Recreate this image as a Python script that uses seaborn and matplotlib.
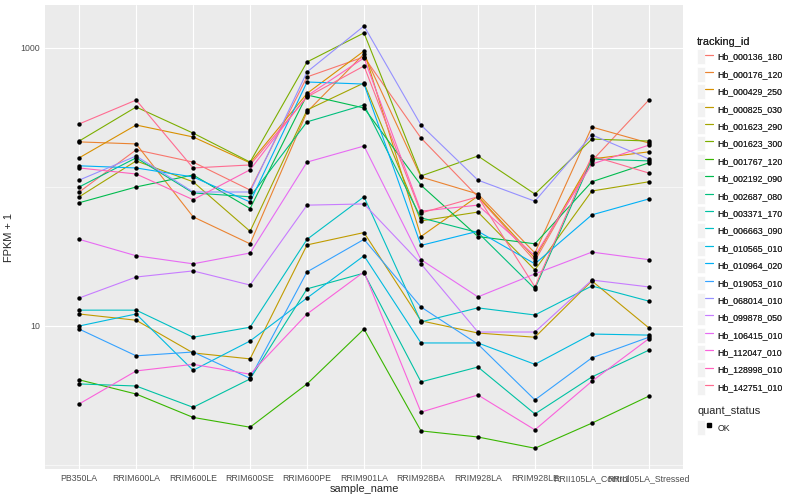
import numpy as np
import pandas as pd
import seaborn as sns
import matplotlib
matplotlib.use("Agg")
import matplotlib.pyplot as plt
from matplotlib.lines import Line2D
from matplotlib.patches import Patch
from matplotlib.legend_handler import HandlerTuple
from matplotlib.ticker import FixedLocator

samples = ["PB350LA", "RRIM600LA", "RRIM600LE", "RRIM600SE", "RRIM600PE", "RRIM901LA",
           "RRIM928BA", "RRIM928LA", "RRIM928LE", "RRII105LA_Control", "RRII105LA_Stressed"]

# FPKM + 1 per transcript, one value per sample
hb_000136_180 = [92, 185, 151, 95, 619, 862, 225, 85, 29.4, 154, 422]
hb_000176_120 = [211, 204, 61, 39, 347, 906, 118, 89, 33.5, 270, 207]
hb_000429_250 = [162, 279, 229, 149, 471, 951, 44, 86, 30.8, 159, 179]
hb_000825_030 = [12.2, 11.0, 6.4, 5.8, 38.3, 47, 10.9, 8.9, 8.3, 21.1, 9.7]
hb_001623_290 = [85, 154, 109, 48, 358, 560, 57, 66, 25.3, 93.5, 109]
hb_001623_300 = [214, 376, 244, 151, 793, 1282, 120, 167, 89, 221, 214]
hb_001767_120 = [4.1, 3.24, 2.2, 1.87, 3.83, 9.5, 1.76, 1.59, 1.32, 2.0, 3.13]
hb_002192_090 = [77, 100, 122, 70, 459, 370, 103, 44, 39, 109, 149]
hb_002687_080 = [100, 162, 90.6, 85, 294, 389, 60, 47, 18.5, 159, 154]
hb_003371_170 = [3.83, 3.7, 2.6, 4.16, 18.5, 24.0, 3.96, 5.07, 2.33, 4.3, 6.7]
hb_006663_090 = [13.0, 13.0, 8.3, 9.8, 42, 85, 10.7, 13.5, 12.0, 19.4, 15.1]
hb_010565_010 = [10.0, 12.2, 4.8, 7.8, 15.9, 32, 7.55, 7.55, 5.3, 8.75, 8.6]
hb_010964_020 = [142, 137, 118, 78, 569, 550, 38, 48, 28, 63, 82]
hb_019053_010 = [9.5, 6.1, 6.5, 4.2, 24.5, 42, 13.7, 7.4, 2.94, 5.9, 8.3]
hb_068014_010 = [112, 167, 92, 92, 672, 1439, 279, 112, 79, 237, 159]
hb_099878_050 = [15.9, 22.5, 24.9, 19.7, 74, 75.5, 28, 9.05, 9.05, 21.4, 19.1]
hb_106415_010 = [42, 32, 28, 33.5, 151, 197, 30, 16.2, 23.7, 34, 30]
hb_112047_010 = [2.75, 4.75, 5.3, 4.5, 12.2, 24.5, 2.4, 3.19, 1.79, 4.0, 8.1]
hb_128998_010 = [137, 124, 81, 133, 452, 848, 67, 74, 32, 146, 200]
hb_142751_010 = [284, 422, 137, 144, 444, 742, 65, 85, 19.1, 167, 126]

tracking_ids = ["Hb_000136_180", "Hb_000176_120", "Hb_000429_250", "Hb_000825_030",
                "Hb_001623_290", "Hb_001623_300", "Hb_001767_120", "Hb_002192_090",
                "Hb_002687_080", "Hb_003371_170", "Hb_006663_090", "Hb_010565_010",
                "Hb_010964_020", "Hb_019053_010", "Hb_068014_010", "Hb_099878_050",
                "Hb_106415_010", "Hb_112047_010", "Hb_128998_010", "Hb_142751_010"]
series = [hb_000136_180, hb_000176_120, hb_000429_250, hb_000825_030, hb_001623_290,
          hb_001623_300, hb_001767_120, hb_002192_090, hb_002687_080, hb_003371_170,
          hb_006663_090, hb_010565_010, hb_010964_020, hb_019053_010, hb_068014_010,
          hb_099878_050, hb_106415_010, hb_112047_010, hb_128998_010, hb_142751_010]

# ggplot2 default hue palette for 20 levels
hue_colors = ["#F8766D", "#EA8331", "#D89000", "#C09B00", "#A3A500", "#7CAE00", "#39B600",
              "#00BB4E", "#00BF7D", "#00C1A3", "#00BFC4", "#00BAE0", "#00B0F6", "#35A2FF",
              "#9590FF", "#C77CFF", "#E76BF3", "#FA62DB", "#FF62BC", "#FF6C91"]

rows = []
for tid, vals in zip(tracking_ids, series):
    for s, v in zip(samples, vals):
        rows.append((tid, s, v, "OK"))
df = pd.DataFrame(rows, columns=["tracking_id", "sample_name", "fpkm1", "quant_status"])

sns.set_theme(style="darkgrid", rc={
    "axes.facecolor": "#EBEBEB",
    "grid.color": "white",
    "axes.edgecolor": "#EBEBEB",
    "axes.linewidth": 0,
})
plt.rcParams["font.family"] = ["Liberation Sans", "DejaVu Sans"]

fig = plt.figure(figsize=(8, 5), dpi=100)
ax = fig.add_axes([45 / 800, 1 - 469 / 500, 638 / 800, 464 / 500])

pal = dict(zip(tracking_ids, hue_colors))
sns.lineplot(data=df, x="sample_name", y="fpkm1", hue="tracking_id", palette=pal,
             sort=False, legend=False, linewidth=0.8, ax=ax)
sns.scatterplot(data=df, x="sample_name", y="fpkm1", color="black", s=10,
                linewidth=0, legend=False, ax=ax, zorder=5)

ax.set_yscale("log")
ax.set_ylim(0.936, 2037)
ax.set_xlim(-0.6, len(samples) - 0.4)
ax.yaxis.set_major_locator(FixedLocator([10, 1000]))
ax.yaxis.set_minor_locator(FixedLocator([1, 100]))
ax.set_yticklabels(["10", "1000"])
ax.yaxis.set_minor_formatter(plt.NullFormatter())
ax.grid(which="major", color="white", linewidth=0.8)
ax.grid(which="minor", axis="y", color="white", linewidth=0.4)
ax.tick_params(axis="both", which="major", length=2, width=0.5, color="#333333",
               labelsize=6.3, labelcolor="#4D4D4D", pad=1.5)
ax.tick_params(axis="y", which="minor", length=0)
for sp in ax.spines.values():
    sp.set_visible(False)

ax.set_xlabel("sample_name", fontsize=7.9, labelpad=0.5)
ax.set_ylabel("FPKM + 1", fontsize=7.9, labelpad=5)

# legends in ggplot style: grey key boxes
key_bg = dict(facecolor="#F2F2F2", edgecolor="white", linewidth=0.5)
handles = [(Patch(**key_bg), Line2D([], [], color=c, linewidth=0.8)) for c in hue_colors]
leg1 = fig.legend(handles, tracking_ids, loc="upper left",
                  bbox_to_anchor=(697 / 800, 1 - 37 / 500), frameon=False,
                  handler_map={tuple: HandlerTuple(ndivide=None)},
                  fontsize=6.3, title="tracking_id", title_fontsize=7.9,
                  alignment="left", handlelength=1.8, handleheight=2.25,
                  labelspacing=0.28, handletextpad=0.5, borderpad=0, borderaxespad=0)

h2 = [(Patch(**key_bg), Line2D([], [], color="black", marker="s", markersize=2.6,
                               linestyle="none"))]
leg2 = fig.legend(h2, ["OK"], loc="upper left",
                  bbox_to_anchor=(697 / 800, 1 - 406 / 500), frameon=False,
                  handler_map={tuple: HandlerTuple(ndivide=None)},
                  fontsize=6.3, title="quant_status", title_fontsize=7.9,
                  alignment="left", handlelength=1.8, handleheight=2.25,
                  handletextpad=0.5, borderpad=0, borderaxespad=0)
fig.add_artist(leg1)

fig.savefig("out.png", dpi=100)
